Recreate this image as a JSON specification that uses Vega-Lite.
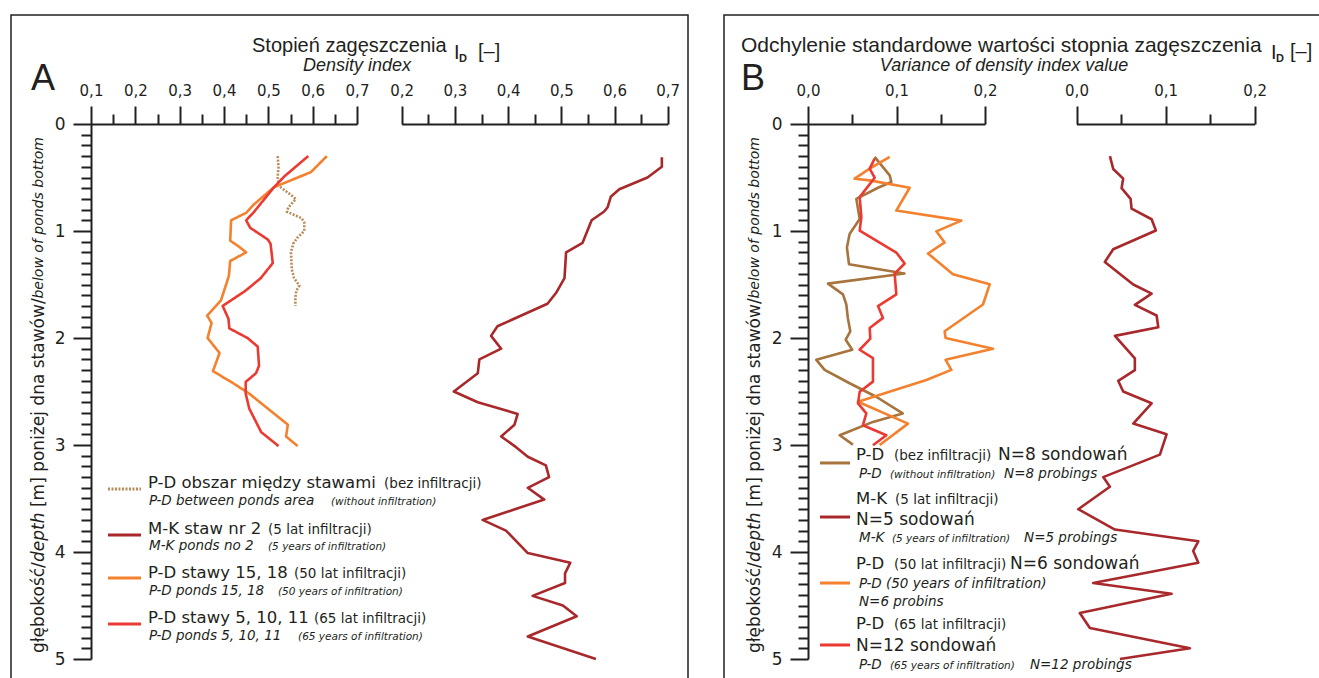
{
"$schema": "https://vega.github.io/schema/vega-lite/v6.json",
"padding": {"left": 10, "top": 14, "right": 0, "bottom": 0},
"background": "white",
"spacing": 34,
"datasets": {
"density": [
{"series":"PD_between","depth":0.30,"id":0.521},{"series":"PD_between","depth":0.40,"id":0.523},{"series":"PD_between","depth":0.50,"id":0.521},{"series":"PD_between","depth":0.58,"id":0.524},{"series":"PD_between","depth":0.66,"id":0.550},{"series":"PD_between","depth":0.70,"id":0.562},{"series":"PD_between","depth":0.78,"id":0.545},{"series":"PD_between","depth":0.82,"id":0.542},{"series":"PD_between","depth":0.88,"id":0.575},{"series":"PD_between","depth":0.92,"id":0.581},{"series":"PD_between","depth":1.00,"id":0.581},{"series":"PD_between","depth":1.06,"id":0.566},{"series":"PD_between","depth":1.12,"id":0.556},{"series":"PD_between","depth":1.20,"id":0.551},{"series":"PD_between","depth":1.28,"id":0.552},{"series":"PD_between","depth":1.36,"id":0.553},{"series":"PD_between","depth":1.44,"id":0.558},{"series":"PD_between","depth":1.51,"id":0.570},{"series":"PD_between","depth":1.56,"id":0.563},{"series":"PD_between","depth":1.62,"id":0.561},{"series":"PD_between","depth":1.70,"id":0.561},
{"series":"PD_50","depth":0.30,"id":0.632},{"series":"PD_50","depth":0.45,"id":0.596},{"series":"PD_50","depth":0.59,"id":0.513},{"series":"PD_50","depth":0.75,"id":0.468},{"series":"PD_50","depth":0.83,"id":0.450},{"series":"PD_50","depth":0.90,"id":0.416},{"series":"PD_50","depth":1.09,"id":0.414},{"series":"PD_50","depth":1.15,"id":0.435},{"series":"PD_50","depth":1.20,"id":0.450},{"series":"PD_50","depth":1.28,"id":0.414},{"series":"PD_50","depth":1.42,"id":0.411},{"series":"PD_50","depth":1.65,"id":0.393},{"series":"PD_50","depth":1.79,"id":0.362},{"series":"PD_50","depth":1.86,"id":0.372},{"series":"PD_50","depth":2.00,"id":0.363},{"series":"PD_50","depth":2.14,"id":0.390},{"series":"PD_50","depth":2.31,"id":0.375},{"series":"PD_50","depth":2.41,"id":0.416},{"series":"PD_50","depth":2.52,"id":0.457},{"series":"PD_50","depth":2.81,"id":0.544},{"series":"PD_50","depth":2.92,"id":0.540},{"series":"PD_50","depth":3.01,"id":0.566},
{"series":"PD_65","depth":0.30,"id":0.590},{"series":"PD_65","depth":0.49,"id":0.536},{"series":"PD_65","depth":0.59,"id":0.513},{"series":"PD_65","depth":0.82,"id":0.468},{"series":"PD_65","depth":0.90,"id":0.450},{"series":"PD_65","depth":0.97,"id":0.459},{"series":"PD_65","depth":1.08,"id":0.499},{"series":"PD_65","depth":1.12,"id":0.505},{"series":"PD_65","depth":1.30,"id":0.510},{"series":"PD_65","depth":1.44,"id":0.483},{"series":"PD_65","depth":1.56,"id":0.448},{"series":"PD_65","depth":1.70,"id":0.397},{"series":"PD_65","depth":1.82,"id":0.410},{"series":"PD_65","depth":1.91,"id":0.412},{"series":"PD_65","depth":2.00,"id":0.453},{"series":"PD_65","depth":2.08,"id":0.476},{"series":"PD_65","depth":2.26,"id":0.479},{"series":"PD_65","depth":2.33,"id":0.472},{"series":"PD_65","depth":2.41,"id":0.449},{"series":"PD_65","depth":2.52,"id":0.449},{"series":"PD_65","depth":2.66,"id":0.457},{"series":"PD_65","depth":2.88,"id":0.484},{"series":"PD_65","depth":3.01,"id":0.523}
],
"density_mk": [
{"series":"MK","depth":0.31,"id":0.689},{"series":"MK","depth":0.40,"id":0.689},{"series":"MK","depth":0.50,"id":0.662},{"series":"MK","depth":0.61,"id":0.609},{"series":"MK","depth":0.68,"id":0.593},{"series":"MK","depth":0.78,"id":0.587},{"series":"MK","depth":0.82,"id":0.580},{"series":"MK","depth":0.90,"id":0.557},{"series":"MK","depth":1.11,"id":0.540},{"series":"MK","depth":1.20,"id":0.509},{"series":"MK","depth":1.44,"id":0.506},{"series":"MK","depth":1.58,"id":0.490},{"series":"MK","depth":1.68,"id":0.474},{"series":"MK","depth":1.89,"id":0.380},{"series":"MK","depth":1.98,"id":0.368},{"series":"MK","depth":2.10,"id":0.387},{"series":"MK","depth":2.20,"id":0.346},{"series":"MK","depth":2.33,"id":0.343},{"series":"MK","depth":2.50,"id":0.298},{"series":"MK","depth":2.60,"id":0.343},{"series":"MK","depth":2.71,"id":0.418},{"series":"MK","depth":2.81,"id":0.412},{"series":"MK","depth":2.92,"id":0.387},{"series":"MK","depth":3.02,"id":0.415},{"series":"MK","depth":3.11,"id":0.437},{"series":"MK","depth":3.19,"id":0.471},{"series":"MK","depth":3.30,"id":0.477},{"series":"MK","depth":3.40,"id":0.437},{"series":"MK","depth":3.51,"id":0.468},{"series":"MK","depth":3.70,"id":0.352},{"series":"MK","depth":3.80,"id":0.396},{"series":"MK","depth":4.01,"id":0.437},{"series":"MK","depth":4.10,"id":0.517},{"series":"MK","depth":4.20,"id":0.507},{"series":"MK","depth":4.29,"id":0.507},{"series":"MK","depth":4.41,"id":0.446},{"series":"MK","depth":4.50,"id":0.503},{"series":"MK","depth":4.60,"id":0.529},{"series":"MK","depth":4.79,"id":0.437},{"series":"MK","depth":5.00,"id":0.565}
],
"sd": [
{"series":"PD_noinf","depth":0.307,"sd":0.0753},{"series":"PD_noinf","depth":0.48,"sd":0.0923},{"series":"PD_noinf","depth":0.542,"sd":0.0942},{"series":"PD_noinf","depth":0.596,"sd":0.0791},{"series":"PD_noinf","depth":0.699,"sd":0.0546},{"series":"PD_noinf","depth":0.887,"sd":0.0584},{"series":"PD_noinf","depth":1.028,"sd":0.047},{"series":"PD_noinf","depth":1.154,"sd":0.044},{"series":"PD_noinf","depth":1.31,"sd":0.0463},{"series":"PD_noinf","depth":1.398,"sd":0.109},{"series":"PD_noinf","depth":1.492,"sd":0.0226},{"series":"PD_noinf","depth":1.592,"sd":0.0395},{"series":"PD_noinf","depth":1.687,"sd":0.0433},{"series":"PD_noinf","depth":1.812,"sd":0.045},{"series":"PD_noinf","depth":1.937,"sd":0.0478},{"series":"PD_noinf","depth":2.016,"sd":0.0426},{"series":"PD_noinf","depth":2.11,"sd":0.05},{"series":"PD_noinf","depth":2.204,"sd":0.0094},{"series":"PD_noinf","depth":2.298,"sd":0.0188},{"series":"PD_noinf","depth":2.423,"sd":0.047},{"series":"PD_noinf","depth":2.549,"sd":0.077},{"series":"PD_noinf","depth":2.705,"sd":0.107},{"series":"PD_noinf","depth":2.784,"sd":0.0734},{"series":"PD_noinf","depth":2.909,"sd":0.0358},{"series":"PD_noinf","depth":2.997,"sd":0.0508},
{"series":"PD_50","depth":0.307,"sd":0.0923},{"series":"PD_50","depth":0.417,"sd":0.0697},{"series":"PD_50","depth":0.511,"sd":0.0527},{"series":"PD_50","depth":0.527,"sd":0.0697},{"series":"PD_50","depth":0.596,"sd":0.1149},{"series":"PD_50","depth":0.809,"sd":0.0998},{"series":"PD_50","depth":0.903,"sd":0.1733},{"series":"PD_50","depth":1.003,"sd":0.145},{"series":"PD_50","depth":1.107,"sd":0.1544},{"series":"PD_50","depth":1.21,"sd":0.1356},{"series":"PD_50","depth":1.404,"sd":0.1638},{"series":"PD_50","depth":1.498,"sd":0.2053},{"series":"PD_50","depth":1.687,"sd":0.1977},{"series":"PD_50","depth":1.937,"sd":0.1544},{"series":"PD_50","depth":2.0,"sd":0.1555},{"series":"PD_50","depth":2.1,"sd":0.209},{"series":"PD_50","depth":2.204,"sd":0.1555},{"series":"PD_50","depth":2.298,"sd":0.162},{"series":"PD_50","depth":2.392,"sd":0.1337},{"series":"PD_50","depth":2.596,"sd":0.0565},{"series":"PD_50","depth":2.8,"sd":0.113},{"series":"PD_50","depth":3.0,"sd":0.081},
{"series":"PD_65","depth":0.323,"sd":0.0753},{"series":"PD_65","depth":0.417,"sd":0.0697},{"series":"PD_65","depth":0.502,"sd":0.0753},{"series":"PD_65","depth":0.683,"sd":0.0584},{"series":"PD_65","depth":0.871,"sd":0.0603},{"series":"PD_65","depth":0.997,"sd":0.0584},{"series":"PD_65","depth":1.091,"sd":0.0772},{"series":"PD_65","depth":1.201,"sd":0.0998},{"series":"PD_65","depth":1.304,"sd":0.1092},{"series":"PD_65","depth":1.398,"sd":0.0979},{"series":"PD_65","depth":1.592,"sd":0.0998},{"series":"PD_65","depth":1.702,"sd":0.0791},{"series":"PD_65","depth":1.812,"sd":0.0847},{"series":"PD_65","depth":1.906,"sd":0.0697},{"series":"PD_65","depth":2.006,"sd":0.0704},{"series":"PD_65","depth":2.11,"sd":0.0584},{"series":"PD_65","depth":2.188,"sd":0.0734},{"series":"PD_65","depth":2.408,"sd":0.0734},{"series":"PD_65","depth":2.502,"sd":0.0584},{"series":"PD_65","depth":2.611,"sd":0.0565},{"series":"PD_65","depth":2.705,"sd":0.0659},{"series":"PD_65","depth":2.815,"sd":0.0621},{"series":"PD_65","depth":2.909,"sd":0.0885},{"series":"PD_65","depth":3.003,"sd":0.0734}
],
"sd_mk": [
{"series":"MK","depth":0.30,"sd":0.0375},{"series":"MK","depth":0.42,"sd":0.0412},{"series":"MK","depth":0.51,"sd":0.0524},{"series":"MK","depth":0.60,"sd":0.0506},{"series":"MK","depth":0.70,"sd":0.0607},{"series":"MK","depth":0.79,"sd":0.0618},{"series":"MK","depth":0.89,"sd":0.0843},{"series":"MK","depth":0.995,"sd":0.0891},{"series":"MK","depth":1.17,"sd":0.0412},{"series":"MK","depth":1.29,"sd":0.0318},{"series":"MK","depth":1.50,"sd":0.0637},{"series":"MK","depth":1.585,"sd":0.0843},{"series":"MK","depth":1.69,"sd":0.0655},{"series":"MK","depth":1.79,"sd":0.0899},{"series":"MK","depth":1.90,"sd":0.0918},{"series":"MK","depth":1.98,"sd":0.0431},{"series":"MK","depth":2.19,"sd":0.0655},{"series":"MK","depth":2.30,"sd":0.0655},{"series":"MK","depth":2.40,"sd":0.0468},{"series":"MK","depth":2.50,"sd":0.0524},{"series":"MK","depth":2.61,"sd":0.0843},{"series":"MK","depth":2.80,"sd":0.0637},{"series":"MK","depth":2.90,"sd":0.1011},{"series":"MK","depth":3.09,"sd":0.0936},{"series":"MK","depth":3.30,"sd":0.030},{"series":"MK","depth":3.39,"sd":0.0375},{"series":"MK","depth":3.60,"sd":0.0019},{"series":"MK","depth":3.79,"sd":0.0431},{"series":"MK","depth":3.90,"sd":0.1367},{"series":"MK","depth":3.99,"sd":0.131},{"series":"MK","depth":4.10,"sd":0.1367},{"series":"MK","depth":4.29,"sd":0.0187},{"series":"MK","depth":4.39,"sd":0.1067},{"series":"MK","depth":4.57,"sd":0.0037},{"series":"MK","depth":4.71,"sd":0.015},{"series":"MK","depth":4.90,"sd":0.1273},{"series":"MK","depth":5.00,"sd":0.0487}
]
},
"hconcat": [
{
"width": 677, "height": 664,
"resolve": {"scale": {"x": "independent"}},
"layer": [
{"data": {"name": "density"},
 "mark": {"type": "line", "strokeWidth": 2.6, "strokeJoin": "round"},
 "encoding": {
  "x": {"field": "id", "type": "quantitative", "scale": {"domain": [0.1, 0.7], "range": [80, 346], "nice": false, "zero": false},
        "axis": {"orient": "top", "offset": -109, "title": null, "labelOverlap": false, "values": [0.1,0.15,0.2,0.25,0.3,0.35,0.4,0.45,0.5,0.55,0.6,0.65,0.7],
                 "tickSize": {"condition": {"test": "round(datum.value*100) % 10 != 0", "value": 10}, "value": 18},
                 "labelExpr": "round(datum.value*100) % 10 == 0 ? replace(format(datum.value, '.1f'), '.', ',') : ''"}},
  "y": {"field": "depth", "type": "quantitative", "scale": {"domain": [0, 5], "range": [109, 644], "nice": false, "zero": false},
        "axis": {"orient": "left", "offset": -80, "title": null, "labelFontSize": 17, "labelOverlap": false, "labelFlush": false, "tickCount": 51,
                 "values": [0,0.1,0.2,0.3,0.4,0.5,0.6,0.7,0.8,0.9,1,1.1,1.2,1.3,1.4,1.5,1.6,1.7,1.8,1.9,2,2.1,2.2,2.3,2.4,2.5,2.6,2.7,2.8,2.9,3,3.1,3.2,3.3,3.4,3.5,3.6,3.7,3.8,3.9,4,4.1,4.2,4.3,4.4,4.5,4.6,4.7,4.8,4.9,5],
                 "tickSize": {"condition": {"test": "round(datum.value*10) % 10 != 0", "value": 10}, "value": 18},
                 "labelExpr": "round(datum.value*10) % 10 == 0 ? format(datum.value, 'd') : ''"}},
  "color": {"field": "series", "type": "nominal", "legend": null, "scale": {"domain": ["PD_between","MK","PD_50","PD_65","PD_noinf"], "range": ["#b98a58","#a8282b","#f3812e","#ea3a31","#a6743c"]}},
  "strokeDash": {"field": "series", "type": "nominal", "legend": null, "scale": {"domain": ["PD_between","MK","PD_50","PD_65","PD_noinf"], "range": [[2,1.5],[1,0],[1,0],[1,0],[1,0]]}},
  "order": {"field": "depth", "type": "quantitative"}
 }},
{"data": {"name": "density_mk"},
 "mark": {"type": "line", "strokeWidth": 2.6, "strokeJoin": "round"},
 "encoding": {
  "x": {"field": "id", "type": "quantitative", "scale": {"domain": [0.2, 0.7], "range": [390.7, 656.7], "nice": false, "zero": false},
        "axis": {"orient": "top", "offset": -109, "title": null, "labelOverlap": false, "values": [0.2,0.25,0.3,0.35,0.4,0.45,0.5,0.55,0.6,0.65,0.7],
                 "tickSize": {"condition": {"test": "round(datum.value*100) % 10 != 0", "value": 10}, "value": 18},
                 "labelExpr": "round(datum.value*100) % 10 == 0 ? replace(format(datum.value, '.1f'), '.', ',') : ''"}},
  "y": {"field": "depth", "type": "quantitative"},
  "color": {"field": "series", "type": "nominal", "legend": null},
  "order": {"field": "depth", "type": "quantitative"}
 }},
{"data": {"values": [{"t": "A"}]}, "mark": {"type": "text", "align": "left", "baseline": "alphabetic", "font": "Liberation Sans", "fontSize": 36, "color": "#231f20"}, "encoding": {"x": {"datum": -0.0353, "scale": {"domain": [0.1,0.7], "range": [80,346], "nice": false, "zero": false}, "axis": null}, "y": {"datum": -0.3178}, "text": {"field": "t"}}},
{"data": {"values": [{"t": "Stopień zagęszczenia"}]}, "mark": {"type": "text", "align": "left", "baseline": "alphabetic", "font": "Liberation Sans", "fontSize": 20, "color": "#231f20"}, "encoding": {"x": {"datum": 0.4632, "scale": {"domain": [0.1,0.7], "range": [80,346], "nice": false, "zero": false}, "axis": null}, "y": {"datum": -0.673}, "text": {"field": "t"}}},
{"data": {"values": [{"t": "I"}]}, "mark": {"type": "text", "align": "left", "baseline": "alphabetic", "font": "Liberation Sans", "fontSize": 20, "color": "#231f20"}, "encoding": {"x": {"datum": 0.9189, "scale": {"domain": [0.1,0.7], "range": [80,346], "nice": false, "zero": false}, "axis": null}, "y": {"datum": -0.6075}, "text": {"field": "t"}}},
{"data": {"values": [{"t": "D"}]}, "mark": {"type": "text", "align": "left", "baseline": "alphabetic", "font": "Liberation Sans", "fontSize": 11, "fontWeight": "bold", "color": "#231f20"}, "encoding": {"x": {"datum": 0.9301, "scale": {"domain": [0.1,0.7], "range": [80,346], "nice": false, "zero": false}, "axis": null}, "y": {"datum": -0.5794}, "text": {"field": "t"}}},
{"data": {"values": [{"t": "[–]"}]}, "mark": {"type": "text", "align": "left", "baseline": "alphabetic", "font": "Liberation Sans", "fontSize": 20, "color": "#231f20"}, "encoding": {"x": {"datum": 0.973, "scale": {"domain": [0.1,0.7], "range": [80,346], "nice": false, "zero": false}, "axis": null}, "y": {"datum": -0.6168}, "text": {"field": "t"}}},
{"data": {"values": [{"t": "Density index"}]}, "mark": {"type": "text", "align": "center", "baseline": "alphabetic", "font": "Liberation Sans", "fontSize": 18, "fontStyle": "italic", "color": "#231f20"}, "encoding": {"x": {"datum": 0.70, "scale": {"domain": [0.1,0.7], "range": [80,346], "nice": false, "zero": false}, "axis": null}, "y": {"datum": -0.495}, "text": {"field": "t"}}},
{"data": {"values": [{"t": "głębokość/"}]}, "mark": {"type": "text", "angle": 270, "align": "left", "baseline": "middle", "font": "DejaVu Sans", "fontSize": 17, "color": "#231f20"}, "encoding": {"x": {"datum": -0.0173, "scale": {"domain": [0.1,0.7], "range": [80,346], "nice": false, "zero": false}, "axis": null}, "y": {"datum": 4.944}, "text": {"field": "t"}}},
{"data": {"values": [{"t": "depth"}]}, "mark": {"type": "text", "angle": 270, "align": "left", "baseline": "middle", "font": "DejaVu Sans", "fontSize": 17, "fontStyle": "italic", "color": "#231f20"}, "encoding": {"x": {"datum": -0.0173, "scale": {"domain": [0.1,0.7], "range": [80,346], "nice": false, "zero": false}, "axis": null}, "y": {"datum": 4.093}, "text": {"field": "t"}}},
{"data": {"values": [{"t": "[m] poniżej dna stawów/"}]}, "mark": {"type": "text", "angle": 270, "align": "left", "baseline": "middle", "font": "DejaVu Sans", "fontSize": 17, "color": "#231f20"}, "encoding": {"x": {"datum": -0.0173, "scale": {"domain": [0.1,0.7], "range": [80,346], "nice": false, "zero": false}, "axis": null}, "y": {"datum": 3.58}, "text": {"field": "t"}}},
{"data": {"values": [{"t": "below of ponds bottom"}]}, "mark": {"type": "text", "angle": 270, "align": "left", "baseline": "middle", "font": "DejaVu Sans", "fontSize": 14, "fontStyle": "italic", "color": "#231f20"}, "encoding": {"x": {"datum": -0.0173, "scale": {"domain": [0.1,0.7], "range": [80,346], "nice": false, "zero": false}, "axis": null}, "y": {"datum": 1.631}, "text": {"field": "t"}}},
{"data": {"values": [{"k": "PD_between"}]}, "mark": {"type": "rule", "strokeWidth": 3}, "encoding": {"x": {"datum": 0.1383, "scale": {"domain": [0.1,0.7], "range": [80,346], "nice": false, "zero": false}, "axis": null}, "x2": {"datum": 0.2128}, "y": {"datum": 3.411}, "color": {"field": "k", "type": "nominal", "legend": null}, "strokeDash": {"field": "k", "type": "nominal", "legend": null}}},
{"data": {"values": [{"k": "MK"}]}, "mark": {"type": "rule", "strokeWidth": 3}, "encoding": {"x": {"datum": 0.1383, "scale": {"domain": [0.1,0.7], "range": [80,346], "nice": false, "zero": false}, "axis": null}, "x2": {"datum": 0.2128}, "y": {"datum": 3.841}, "color": {"field": "k", "type": "nominal", "legend": null}}},
{"data": {"values": [{"k": "PD_50"}]}, "mark": {"type": "rule", "strokeWidth": 3}, "encoding": {"x": {"datum": 0.1383, "scale": {"domain": [0.1,0.7], "range": [80,346], "nice": false, "zero": false}, "axis": null}, "x2": {"datum": 0.2128}, "y": {"datum": 4.243}, "color": {"field": "k", "type": "nominal", "legend": null}}},
{"data": {"values": [{"k": "PD_65"}]}, "mark": {"type": "rule", "strokeWidth": 3}, "encoding": {"x": {"datum": 0.1383, "scale": {"domain": [0.1,0.7], "range": [80,346], "nice": false, "zero": false}, "axis": null}, "x2": {"datum": 0.2128}, "y": {"datum": 4.673}, "color": {"field": "k", "type": "nominal", "legend": null}}},
{"data": {"values": [{"t": "P-D obszar między stawami"}]}, "mark": {"type": "text", "align": "left", "baseline": "alphabetic", "font": "DejaVu Sans", "fontSize": 16.5, "color": "#231f20"}, "encoding": {"x": {"datum": 0.2286, "scale": {"domain": [0.1,0.7], "range": [80,346], "nice": false, "zero": false}, "axis": null}, "y": {"datum": 3.402}, "text": {"field": "t"}}},
{"data": {"values": [{"t": "(bez infiltracji)"}]}, "mark": {"type": "text", "align": "left", "baseline": "alphabetic", "font": "DejaVu Sans", "fontSize": 13.5, "color": "#231f20"}, "encoding": {"x": {"datum": 0.761, "scale": {"domain": [0.1,0.7], "range": [80,346], "nice": false, "zero": false}, "axis": null}, "y": {"datum": 3.402}, "text": {"field": "t"}}},
{"data": {"values": [{"t": "P-D between ponds area"}]}, "mark": {"type": "text", "align": "left", "baseline": "alphabetic", "font": "DejaVu Sans", "fontSize": 13.5, "fontStyle": "italic", "color": "#231f20"}, "encoding": {"x": {"datum": 0.2308, "scale": {"domain": [0.1,0.7], "range": [80,346], "nice": false, "zero": false}, "axis": null}, "y": {"datum": 3.561}, "text": {"field": "t"}}},
{"data": {"values": [{"t": "(without infiltration)"}]}, "mark": {"type": "text", "align": "left", "baseline": "alphabetic", "font": "DejaVu Sans", "fontSize": 10.5, "fontStyle": "italic", "color": "#231f20"}, "encoding": {"x": {"datum": 0.6414, "scale": {"domain": [0.1,0.7], "range": [80,346], "nice": false, "zero": false}, "axis": null}, "y": {"datum": 3.561}, "text": {"field": "t"}}},
{"data": {"values": [{"t": "M-K staw nr 2"}]}, "mark": {"type": "text", "align": "left", "baseline": "alphabetic", "font": "DejaVu Sans", "fontSize": 16.5, "color": "#231f20"}, "encoding": {"x": {"datum": 0.2286, "scale": {"domain": [0.1,0.7], "range": [80,346], "nice": false, "zero": false}, "axis": null}, "y": {"datum": 3.832}, "text": {"field": "t"}}},
{"data": {"values": [{"t": "(5 lat infiltracji)"}]}, "mark": {"type": "text", "align": "left", "baseline": "alphabetic", "font": "DejaVu Sans", "fontSize": 13.5, "color": "#231f20"}, "encoding": {"x": {"datum": 0.4993, "scale": {"domain": [0.1,0.7], "range": [80,346], "nice": false, "zero": false}, "axis": null}, "y": {"datum": 3.832}, "text": {"field": "t"}}},
{"data": {"values": [{"t": "M-K ponds no 2"}]}, "mark": {"type": "text", "align": "left", "baseline": "alphabetic", "font": "DejaVu Sans", "fontSize": 13.5, "fontStyle": "italic", "color": "#231f20"}, "encoding": {"x": {"datum": 0.2308, "scale": {"domain": [0.1,0.7], "range": [80,346], "nice": false, "zero": false}, "axis": null}, "y": {"datum": 3.981}, "text": {"field": "t"}}},
{"data": {"values": [{"t": "(5 years of infiltration)"}]}, "mark": {"type": "text", "align": "left", "baseline": "alphabetic", "font": "DejaVu Sans", "fontSize": 10.5, "fontStyle": "italic", "color": "#231f20"}, "encoding": {"x": {"datum": 0.4993, "scale": {"domain": [0.1,0.7], "range": [80,346], "nice": false, "zero": false}, "axis": null}, "y": {"datum": 3.981}, "text": {"field": "t"}}},
{"data": {"values": [{"t": "P-D stawy 15, 18"}]}, "mark": {"type": "text", "align": "left", "baseline": "alphabetic", "font": "DejaVu Sans", "fontSize": 16.5, "color": "#231f20"}, "encoding": {"x": {"datum": 0.2286, "scale": {"domain": [0.1,0.7], "range": [80,346], "nice": false, "zero": false}, "axis": null}, "y": {"datum": 4.243}, "text": {"field": "t"}}},
{"data": {"values": [{"t": "(50 lat infiltracji)"}]}, "mark": {"type": "text", "align": "left", "baseline": "alphabetic", "font": "DejaVu Sans", "fontSize": 13.5, "color": "#231f20"}, "encoding": {"x": {"datum": 0.5579, "scale": {"domain": [0.1,0.7], "range": [80,346], "nice": false, "zero": false}, "axis": null}, "y": {"datum": 4.243}, "text": {"field": "t"}}},
{"data": {"values": [{"t": "P-D ponds 15, 18"}]}, "mark": {"type": "text", "align": "left", "baseline": "alphabetic", "font": "DejaVu Sans", "fontSize": 13.5, "fontStyle": "italic", "color": "#231f20"}, "encoding": {"x": {"datum": 0.2308, "scale": {"domain": [0.1,0.7], "range": [80,346], "nice": false, "zero": false}, "axis": null}, "y": {"datum": 4.402}, "text": {"field": "t"}}},
{"data": {"values": [{"t": "(50 years of infiltration)"}]}, "mark": {"type": "text", "align": "left", "baseline": "alphabetic", "font": "DejaVu Sans", "fontSize": 10.5, "fontStyle": "italic", "color": "#231f20"}, "encoding": {"x": {"datum": 0.5218, "scale": {"domain": [0.1,0.7], "range": [80,346], "nice": false, "zero": false}, "axis": null}, "y": {"datum": 4.402}, "text": {"field": "t"}}},
{"data": {"values": [{"t": "P-D stawy 5, 10, 11"}]}, "mark": {"type": "text", "align": "left", "baseline": "alphabetic", "font": "DejaVu Sans", "fontSize": 16.5, "color": "#231f20"}, "encoding": {"x": {"datum": 0.2286, "scale": {"domain": [0.1,0.7], "range": [80,346], "nice": false, "zero": false}, "axis": null}, "y": {"datum": 4.664}, "text": {"field": "t"}}},
{"data": {"values": [{"t": "(65 lat infiltracji)"}]}, "mark": {"type": "text", "align": "left", "baseline": "alphabetic", "font": "DejaVu Sans", "fontSize": 13.5, "color": "#231f20"}, "encoding": {"x": {"datum": 0.603, "scale": {"domain": [0.1,0.7], "range": [80,346], "nice": false, "zero": false}, "axis": null}, "y": {"datum": 4.664}, "text": {"field": "t"}}},
{"data": {"values": [{"t": "P-D ponds 5, 10, 11"}]}, "mark": {"type": "text", "align": "left", "baseline": "alphabetic", "font": "DejaVu Sans", "fontSize": 13.5, "fontStyle": "italic", "color": "#231f20"}, "encoding": {"x": {"datum": 0.2308, "scale": {"domain": [0.1,0.7], "range": [80,346], "nice": false, "zero": false}, "axis": null}, "y": {"datum": 4.822}, "text": {"field": "t"}}},
{"data": {"values": [{"t": "(65 years of infiltration)"}]}, "mark": {"type": "text", "align": "left", "baseline": "alphabetic", "font": "DejaVu Sans", "fontSize": 10.5, "fontStyle": "italic", "color": "#231f20"}, "encoding": {"x": {"datum": 0.567, "scale": {"domain": [0.1,0.7], "range": [80,346], "nice": false, "zero": false}, "axis": null}, "y": {"datum": 4.822}, "text": {"field": "t"}}}
]
},
{
"width": 598, "height": 664,
"resolve": {"scale": {"x": "independent"}},
"layer": [
{"data": {"name": "sd"},
 "mark": {"type": "line", "strokeWidth": 2.6, "strokeJoin": "round"},
 "encoding": {
  "x": {"field": "sd", "type": "quantitative", "scale": {"domain": [0, 0.2], "range": [84, 261], "nice": false, "zero": false},
        "axis": {"orient": "top", "offset": -109, "title": null, "labelOverlap": false, "values": [0,0.05,0.1,0.15,0.2],
                 "tickSize": {"condition": {"test": "round(datum.value*100) % 10 != 0", "value": 10}, "value": 18},
                 "labelExpr": "round(datum.value*100) % 10 == 0 ? replace(format(datum.value, '.1f'), '.', ',') : ''"}},
  "y": {"field": "depth", "type": "quantitative", "scale": {"domain": [0, 5], "range": [109, 644], "nice": false, "zero": false},
        "axis": {"orient": "left", "offset": -84, "title": null, "labelFontSize": 17, "labelOverlap": false, "labelFlush": false, "tickCount": 51,
                 "values": [0,0.1,0.2,0.3,0.4,0.5,0.6,0.7,0.8,0.9,1,1.1,1.2,1.3,1.4,1.5,1.6,1.7,1.8,1.9,2,2.1,2.2,2.3,2.4,2.5,2.6,2.7,2.8,2.9,3,3.1,3.2,3.3,3.4,3.5,3.6,3.7,3.8,3.9,4,4.1,4.2,4.3,4.4,4.5,4.6,4.7,4.8,4.9,5],
                 "tickSize": {"condition": {"test": "round(datum.value*10) % 10 != 0", "value": 10}, "value": 18},
                 "labelExpr": "round(datum.value*10) % 10 == 0 ? format(datum.value, 'd') : ''"}},
  "color": {"field": "series", "type": "nominal", "legend": null, "scale": {"domain": ["PD_between","MK","PD_50","PD_65","PD_noinf"], "range": ["#b98a58","#a8282b","#f3812e","#ea3a31","#a6743c"]}},
  "order": {"field": "depth", "type": "quantitative"}
 }},
{"data": {"name": "sd_mk"},
 "mark": {"type": "line", "strokeWidth": 2.6, "strokeJoin": "round"},
 "encoding": {
  "x": {"field": "sd", "type": "quantitative", "scale": {"domain": [0, 0.2], "range": [352.5, 530.7], "nice": false, "zero": false},
        "axis": {"orient": "top", "offset": -109, "title": null, "labelOverlap": false, "values": [0,0.05,0.1,0.15,0.2],
                 "tickSize": {"condition": {"test": "round(datum.value*100) % 10 != 0", "value": 10}, "value": 18},
                 "labelExpr": "round(datum.value*100) % 10 == 0 ? replace(format(datum.value, '.1f'), '.', ',') : ''"}},
  "y": {"field": "depth", "type": "quantitative"},
  "color": {"field": "series", "type": "nominal", "legend": null},
  "order": {"field": "depth", "type": "quantitative"}
 }},
{"data": {"values": [{"t": "B"}]}, "mark": {"type": "text", "align": "left", "baseline": "alphabetic", "font": "Liberation Sans", "fontSize": 36, "color": "#231f20"}, "encoding": {"x": {"datum": -0.0757, "scale": {"domain": [0,0.2], "range": [84,261], "nice": false, "zero": false}, "axis": null}, "y": {"datum": -0.3178}, "text": {"field": "t"}}},
{"data": {"values": [{"t": "Odchylenie standardowe wartości stopnia zagęszczenia"}]}, "mark": {"type": "text", "align": "left", "baseline": "alphabetic", "font": "Liberation Sans", "fontSize": 21, "color": "#231f20"}, "encoding": {"x": {"datum": -0.0757, "scale": {"domain": [0,0.2], "range": [84,261], "nice": false, "zero": false}, "axis": null}, "y": {"datum": -0.673}, "text": {"field": "t"}}},
{"data": {"values": [{"t": "I"}]}, "mark": {"type": "text", "align": "left", "baseline": "alphabetic", "font": "Liberation Sans", "fontSize": 20, "color": "#231f20"}, "encoding": {"x": {"datum": 0.5232, "scale": {"domain": [0,0.2], "range": [84,261], "nice": false, "zero": false}, "axis": null}, "y": {"datum": -0.6075}, "text": {"field": "t"}}},
{"data": {"values": [{"t": "D"}]}, "mark": {"type": "text", "align": "left", "baseline": "alphabetic", "font": "Liberation Sans", "fontSize": 11, "fontWeight": "bold", "color": "#231f20"}, "encoding": {"x": {"datum": 0.5288, "scale": {"domain": [0,0.2], "range": [84,261], "nice": false, "zero": false}, "axis": null}, "y": {"datum": -0.5794}, "text": {"field": "t"}}},
{"data": {"values": [{"t": "[–]"}]}, "mark": {"type": "text", "align": "left", "baseline": "alphabetic", "font": "Liberation Sans", "fontSize": 20, "color": "#231f20"}, "encoding": {"x": {"datum": 0.5446, "scale": {"domain": [0,0.2], "range": [84,261], "nice": false, "zero": false}, "axis": null}, "y": {"datum": -0.6168}, "text": {"field": "t"}}},
{"data": {"values": [{"t": "Variance of density index value"}]}, "mark": {"type": "text", "align": "center", "baseline": "alphabetic", "font": "Liberation Sans", "fontSize": 18, "fontStyle": "italic", "color": "#231f20"}, "encoding": {"x": {"datum": 0.2215, "scale": {"domain": [0,0.2], "range": [84,261], "nice": false, "zero": false}, "axis": null}, "y": {"datum": -0.495}, "text": {"field": "t"}}},
{"data": {"values": [{"t": "głębokość/"}]}, "mark": {"type": "text", "angle": 270, "align": "left", "baseline": "middle", "font": "DejaVu Sans", "fontSize": 17, "color": "#231f20"}, "encoding": {"x": {"datum": -0.0599, "scale": {"domain": [0,0.2], "range": [84,261], "nice": false, "zero": false}, "axis": null}, "y": {"datum": 4.944}, "text": {"field": "t"}}},
{"data": {"values": [{"t": "depth"}]}, "mark": {"type": "text", "angle": 270, "align": "left", "baseline": "middle", "font": "DejaVu Sans", "fontSize": 17, "fontStyle": "italic", "color": "#231f20"}, "encoding": {"x": {"datum": -0.0599, "scale": {"domain": [0,0.2], "range": [84,261], "nice": false, "zero": false}, "axis": null}, "y": {"datum": 4.093}, "text": {"field": "t"}}},
{"data": {"values": [{"t": "[m] poniżej dna stawów/"}]}, "mark": {"type": "text", "angle": 270, "align": "left", "baseline": "middle", "font": "DejaVu Sans", "fontSize": 17, "color": "#231f20"}, "encoding": {"x": {"datum": -0.0599, "scale": {"domain": [0,0.2], "range": [84,261], "nice": false, "zero": false}, "axis": null}, "y": {"datum": 3.58}, "text": {"field": "t"}}},
{"data": {"values": [{"t": "below of ponds bottom"}]}, "mark": {"type": "text", "angle": 270, "align": "left", "baseline": "middle", "font": "DejaVu Sans", "fontSize": 14, "fontStyle": "italic", "color": "#231f20"}, "encoding": {"x": {"datum": -0.0599, "scale": {"domain": [0,0.2], "range": [84,261], "nice": false, "zero": false}, "axis": null}, "y": {"datum": 1.631}, "text": {"field": "t"}}},
{"data": {"values": [{"k": "PD_noinf"}]}, "mark": {"type": "rule", "strokeWidth": 3}, "encoding": {"x": {"datum": 0.01356, "scale": {"domain": [0,0.2], "range": [84,261], "nice": false, "zero": false}, "axis": null}, "x2": {"datum": 0.04746}, "y": {"datum": 3.168}, "color": {"field": "k", "type": "nominal", "legend": null}}},
{"data": {"values": [{"k": "MK"}]}, "mark": {"type": "rule", "strokeWidth": 3}, "encoding": {"x": {"datum": 0.01356, "scale": {"domain": [0,0.2], "range": [84,261], "nice": false, "zero": false}, "axis": null}, "x2": {"datum": 0.04746}, "y": {"datum": 3.673}, "color": {"field": "k", "type": "nominal", "legend": null}}},
{"data": {"values": [{"k": "PD_50"}]}, "mark": {"type": "rule", "strokeWidth": 3}, "encoding": {"x": {"datum": 0.01356, "scale": {"domain": [0,0.2], "range": [84,261], "nice": false, "zero": false}, "axis": null}, "x2": {"datum": 0.04746}, "y": {"datum": 4.29}, "color": {"field": "k", "type": "nominal", "legend": null}}},
{"data": {"values": [{"k": "PD_65"}]}, "mark": {"type": "rule", "strokeWidth": 3}, "encoding": {"x": {"datum": 0.01356, "scale": {"domain": [0,0.2], "range": [84,261], "nice": false, "zero": false}, "axis": null}, "x2": {"datum": 0.04746}, "y": {"datum": 4.869}, "color": {"field": "k", "type": "nominal", "legend": null}}},
{"data": {"values": [{"t": "P-D"}]}, "mark": {"type": "text", "align": "left", "baseline": "alphabetic", "font": "DejaVu Sans", "fontSize": 16.5, "color": "#231f20"}, "encoding": {"x": {"datum": 0.05424, "scale": {"domain": [0,0.2], "range": [84,261], "nice": false, "zero": false}, "axis": null}, "y": {"datum": 3.14}, "text": {"field": "t"}}},
{"data": {"values": [{"t": "(bez infiltracji)"}]}, "mark": {"type": "text", "align": "left", "baseline": "alphabetic", "font": "DejaVu Sans", "fontSize": 13.5, "color": "#231f20"}, "encoding": {"x": {"datum": 0.09718, "scale": {"domain": [0,0.2], "range": [84,261], "nice": false, "zero": false}, "axis": null}, "y": {"datum": 3.14}, "text": {"field": "t"}}},
{"data": {"values": [{"t": "N=8 sondowań"}]}, "mark": {"type": "text", "align": "left", "baseline": "alphabetic", "font": "DejaVu Sans", "fontSize": 17, "color": "#231f20"}, "encoding": {"x": {"datum": 0.2147, "scale": {"domain": [0,0.2], "range": [84,261], "nice": false, "zero": false}, "axis": null}, "y": {"datum": 3.14}, "text": {"field": "t"}}},
{"data": {"values": [{"t": "P-D"}]}, "mark": {"type": "text", "align": "left", "baseline": "alphabetic", "font": "DejaVu Sans", "fontSize": 13.5, "fontStyle": "italic", "color": "#231f20"}, "encoding": {"x": {"datum": 0.05763, "scale": {"domain": [0,0.2], "range": [84,261], "nice": false, "zero": false}, "axis": null}, "y": {"datum": 3.308}, "text": {"field": "t"}}},
{"data": {"values": [{"t": "(without infiltration)"}]}, "mark": {"type": "text", "align": "left", "baseline": "alphabetic", "font": "DejaVu Sans", "fontSize": 10.5, "fontStyle": "italic", "color": "#231f20"}, "encoding": {"x": {"datum": 0.09266, "scale": {"domain": [0,0.2], "range": [84,261], "nice": false, "zero": false}, "axis": null}, "y": {"datum": 3.308}, "text": {"field": "t"}}},
{"data": {"values": [{"t": "N=8 probings"}]}, "mark": {"type": "text", "align": "left", "baseline": "alphabetic", "font": "DejaVu Sans", "fontSize": 13.5, "fontStyle": "italic", "color": "#231f20"}, "encoding": {"x": {"datum": 0.2215, "scale": {"domain": [0,0.2], "range": [84,261], "nice": false, "zero": false}, "axis": null}, "y": {"datum": 3.308}, "text": {"field": "t"}}},
{"data": {"values": [{"t": "M-K"}]}, "mark": {"type": "text", "align": "left", "baseline": "alphabetic", "font": "DejaVu Sans", "fontSize": 16.5, "color": "#231f20"}, "encoding": {"x": {"datum": 0.05424, "scale": {"domain": [0,0.2], "range": [84,261], "nice": false, "zero": false}, "axis": null}, "y": {"datum": 3.551}, "text": {"field": "t"}}},
{"data": {"values": [{"t": "(5 lat infiltracji)"}]}, "mark": {"type": "text", "align": "left", "baseline": "alphabetic", "font": "DejaVu Sans", "fontSize": 13.5, "color": "#231f20"}, "encoding": {"x": {"datum": 0.0983, "scale": {"domain": [0,0.2], "range": [84,261], "nice": false, "zero": false}, "axis": null}, "y": {"datum": 3.551}, "text": {"field": "t"}}},
{"data": {"values": [{"t": "N=5 sodowań"}]}, "mark": {"type": "text", "align": "left", "baseline": "alphabetic", "font": "DejaVu Sans", "fontSize": 17, "color": "#231f20"}, "encoding": {"x": {"datum": 0.05424, "scale": {"domain": [0,0.2], "range": [84,261], "nice": false, "zero": false}, "axis": null}, "y": {"datum": 3.748}, "text": {"field": "t"}}},
{"data": {"values": [{"t": "M-K"}]}, "mark": {"type": "text", "align": "left", "baseline": "alphabetic", "font": "DejaVu Sans", "fontSize": 13.5, "fontStyle": "italic", "color": "#231f20"}, "encoding": {"x": {"datum": 0.05763, "scale": {"domain": [0,0.2], "range": [84,261], "nice": false, "zero": false}, "axis": null}, "y": {"datum": 3.907}, "text": {"field": "t"}}},
{"data": {"values": [{"t": "(5 years of infiltration)"}]}, "mark": {"type": "text", "align": "left", "baseline": "alphabetic", "font": "DejaVu Sans", "fontSize": 10.5, "fontStyle": "italic", "color": "#231f20"}, "encoding": {"x": {"datum": 0.0949, "scale": {"domain": [0,0.2], "range": [84,261], "nice": false, "zero": false}, "axis": null}, "y": {"datum": 3.907}, "text": {"field": "t"}}},
{"data": {"values": [{"t": "N=5 probings"}]}, "mark": {"type": "text", "align": "left", "baseline": "alphabetic", "font": "DejaVu Sans", "fontSize": 13.5, "fontStyle": "italic", "color": "#231f20"}, "encoding": {"x": {"datum": 0.2441, "scale": {"domain": [0,0.2], "range": [84,261], "nice": false, "zero": false}, "axis": null}, "y": {"datum": 3.907}, "text": {"field": "t"}}},
{"data": {"values": [{"t": "P-D"}]}, "mark": {"type": "text", "align": "left", "baseline": "alphabetic", "font": "DejaVu Sans", "fontSize": 16.5, "color": "#231f20"}, "encoding": {"x": {"datum": 0.05424, "scale": {"domain": [0,0.2], "range": [84,261], "nice": false, "zero": false}, "axis": null}, "y": {"datum": 4.159}, "text": {"field": "t"}}},
{"data": {"values": [{"t": "(50 lat infiltracji)"}]}, "mark": {"type": "text", "align": "left", "baseline": "alphabetic", "font": "DejaVu Sans", "fontSize": 13.5, "color": "#231f20"}, "encoding": {"x": {"datum": 0.09718, "scale": {"domain": [0,0.2], "range": [84,261], "nice": false, "zero": false}, "axis": null}, "y": {"datum": 4.159}, "text": {"field": "t"}}},
{"data": {"values": [{"t": "N=6 sondowań"}]}, "mark": {"type": "text", "align": "left", "baseline": "alphabetic", "font": "DejaVu Sans", "fontSize": 17, "color": "#231f20"}, "encoding": {"x": {"datum": 0.2282, "scale": {"domain": [0,0.2], "range": [84,261], "nice": false, "zero": false}, "axis": null}, "y": {"datum": 4.159}, "text": {"field": "t"}}},
{"data": {"values": [{"t": "P-D (50 years of infiltration)"}]}, "mark": {"type": "text", "align": "left", "baseline": "alphabetic", "font": "DejaVu Sans", "fontSize": 13.5, "fontStyle": "italic", "color": "#231f20"}, "encoding": {"x": {"datum": 0.05763, "scale": {"domain": [0,0.2], "range": [84,261], "nice": false, "zero": false}, "axis": null}, "y": {"datum": 4.336}, "text": {"field": "t"}}},
{"data": {"values": [{"t": "N=6 probins"}]}, "mark": {"type": "text", "align": "left", "baseline": "alphabetic", "font": "DejaVu Sans", "fontSize": 13.5, "fontStyle": "italic", "color": "#231f20"}, "encoding": {"x": {"datum": 0.05763, "scale": {"domain": [0,0.2], "range": [84,261], "nice": false, "zero": false}, "axis": null}, "y": {"datum": 4.505}, "text": {"field": "t"}}},
{"data": {"values": [{"t": "P-D"}]}, "mark": {"type": "text", "align": "left", "baseline": "alphabetic", "font": "DejaVu Sans", "fontSize": 16.5, "color": "#231f20"}, "encoding": {"x": {"datum": 0.05424, "scale": {"domain": [0,0.2], "range": [84,261], "nice": false, "zero": false}, "axis": null}, "y": {"datum": 4.72}, "text": {"field": "t"}}},
{"data": {"values": [{"t": "(65 lat infiltracji)"}]}, "mark": {"type": "text", "align": "left", "baseline": "alphabetic", "font": "DejaVu Sans", "fontSize": 13.5, "color": "#231f20"}, "encoding": {"x": {"datum": 0.09718, "scale": {"domain": [0,0.2], "range": [84,261], "nice": false, "zero": false}, "axis": null}, "y": {"datum": 4.72}, "text": {"field": "t"}}},
{"data": {"values": [{"t": "N=12 sondowań"}]}, "mark": {"type": "text", "align": "left", "baseline": "alphabetic", "font": "DejaVu Sans", "fontSize": 17, "color": "#231f20"}, "encoding": {"x": {"datum": 0.05424, "scale": {"domain": [0,0.2], "range": [84,261], "nice": false, "zero": false}, "axis": null}, "y": {"datum": 4.925}, "text": {"field": "t"}}},
{"data": {"values": [{"t": "P-D"}]}, "mark": {"type": "text", "align": "left", "baseline": "alphabetic", "font": "DejaVu Sans", "fontSize": 13.5, "fontStyle": "italic", "color": "#231f20"}, "encoding": {"x": {"datum": 0.05763, "scale": {"domain": [0,0.2], "range": [84,261], "nice": false, "zero": false}, "axis": null}, "y": {"datum": 5.093}, "text": {"field": "t"}}},
{"data": {"values": [{"t": "(65 years of infiltration)"}]}, "mark": {"type": "text", "align": "left", "baseline": "alphabetic", "font": "DejaVu Sans", "fontSize": 10.5, "fontStyle": "italic", "color": "#231f20"}, "encoding": {"x": {"datum": 0.09266, "scale": {"domain": [0,0.2], "range": [84,261], "nice": false, "zero": false}, "axis": null}, "y": {"datum": 5.093}, "text": {"field": "t"}}},
{"data": {"values": [{"t": "N=12 probings"}]}, "mark": {"type": "text", "align": "left", "baseline": "alphabetic", "font": "DejaVu Sans", "fontSize": 13.5, "fontStyle": "italic", "color": "#231f20"}, "encoding": {"x": {"datum": 0.2508, "scale": {"domain": [0,0.2], "range": [84,261], "nice": false, "zero": false}, "axis": null}, "y": {"datum": 5.093}, "text": {"field": "t"}}}
]
}
],
"config": {
 "view": {"stroke": "#231f20", "strokeWidth": 1.5},
 "font": "DejaVu Sans",
 "axis": {"domainColor": "#231f20", "domainWidth": 2, "tickColor": "#231f20", "tickWidth": 2, "labelColor": "#231f20", "labelFont": "DejaVu Sans", "labelFontSize": 15, "grid": false, "labelFlush": false, "labelOverlap": false, "labelBound": false, "labelPadding": 8}
}
}
